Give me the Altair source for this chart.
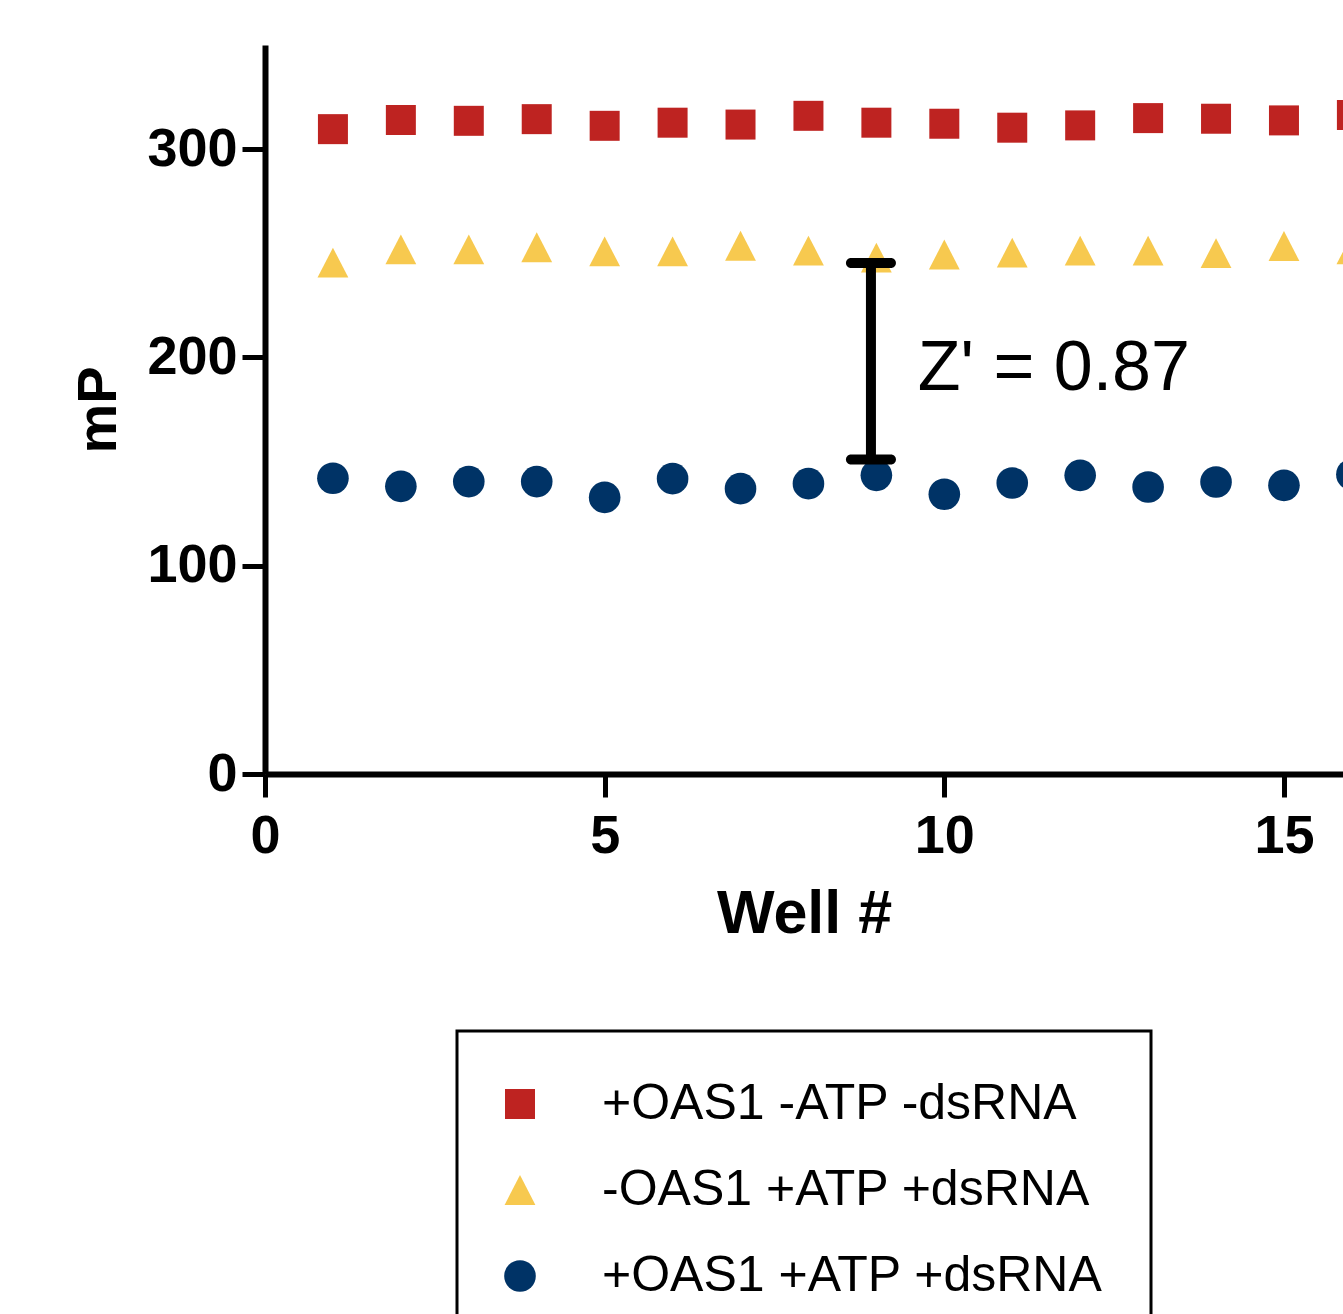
import altair as alt
import pandas as pd

wells = list(range(1, 17))
series_names = ["+OAS1 -ATP -dsRNA", "-OAS1 +ATP +dsRNA", "+OAS1 +ATP +dsRNA"]
red_vals = [309.6, 314.0, 313.6, 314.4, 311.2, 312.7, 311.8, 316.0, 312.7, 312.2, 310.3, 311.4, 314.9, 314.6, 313.8, 316.4]
yellow_vals = [245.5, 251.9, 251.9, 252.9, 250.9, 250.9, 253.6, 251.3, 247.9, 249.4, 250.3, 251.3, 251.3, 250.1, 253.5, 251.9]
navy_vals = [142.0, 138.1, 140.4, 140.4, 132.8, 141.8, 137.0, 139.4, 143.4, 134.3, 139.7, 143.4, 137.8, 140.2, 138.6, 143.8]
colors = ["#BE2321", "#F7C94F", "#003366"]
triangle = "M0,-0.97L1,0.97L-1,0.97Z"
shapes = ["square", triangle, "circle"]

# Z' window annotation
zbar_x = [8.92]
zbar_low = [151.0]
zbar_high = [245.3]
zlabel = ["Z' = 0.87"]
zlabel_x = [9.61]
zlabel_y = [184.6]

rows = []
for name, vals in zip(series_names, [red_vals, yellow_vals, navy_vals]):
    for w, v in zip(wells, vals):
        rows.append({"well": w, "mP": v, "group": name})
df = pd.DataFrame(rows)

zdf = pd.DataFrame({"x": zbar_x, "lo": zbar_low, "hi": zbar_high})
tdf = pd.DataFrame({"x": zlabel_x, "y": zlabel_y, "t": zlabel})

FONT = "Liberation Sans"

xs = alt.Scale(domain=[0, 15.869], nice=False, zero=False)
ys = alt.Scale(domain=[0, 350], nice=False)

points = alt.Chart(df).mark_point(filled=True, opacity=1, size=900, strokeWidth=0).encode(
    x=alt.X("well:Q", scale=xs, axis=alt.Axis(
        values=[0, 5, 10, 15], format="d", title="Well #", grid=False,
        domainWidth=6, domainColor="black", tickWidth=5, tickColor="black", tickSize=23,
        labelFont=FONT, labelFontSize=54, labelFontWeight="bold", labelColor="black",
        labelPadding=12, labelFlush=False,
        titleFont=FONT, titleFontSize=61, titleFontWeight="bold", titleColor="black",
        titlePadding=21)),
    y=alt.Y("mP:Q", scale=ys, axis=alt.Axis(
        values=[0, 100, 200, 300], format="d", title="mP", grid=False,
        domainWidth=6, domainColor="black", tickWidth=5, tickColor="black", tickSize=23,
        labelFont=FONT, labelFontSize=54, labelFontWeight="bold", labelColor="black",
        labelPadding=5, labelFlush=False,
        titleFont=FONT, titleFontSize=56, titleFontWeight="bold", titleColor="black",
        titlePadding=19)),
    color=alt.Color("group:N", scale=alt.Scale(domain=series_names, range=colors),
                    legend=alt.Legend(title=None, orient="none", legendX=192, legendY=986,
                                      labelFont=FONT, labelFontSize=50, labelColor="black",
                                      symbolSize=930, symbolStrokeWidth=0, labelOffset=57,
                                      symbolOffset=-10,
                                      rowPadding=36, padding=48, strokeColor="black",
                                      labelLimit=1000,
                                      fillColor="white")),
    shape=alt.Shape("group:N", scale=alt.Scale(domain=series_names, range=shapes)),
    size=alt.Size("group:N", scale=alt.Scale(domain=series_names, range=[900, 1000, 720]), legend=None),
)

vbar = alt.Chart(zdf).mark_rule(color="black", strokeWidth=10).encode(
    x=alt.X("x:Q", scale=xs), y=alt.Y("lo:Q", scale=ys), y2="hi:Q")
cap_lo = alt.Chart(zdf).mark_tick(color="black", orient="horizontal", size=50, thickness=10,
                                  cornerRadius=5, opacity=1).encode(
    x=alt.X("x:Q", scale=xs), y=alt.Y("lo:Q", scale=ys))
cap_hi = alt.Chart(zdf).mark_tick(color="black", orient="horizontal", size=50, thickness=10,
                                  cornerRadius=5, opacity=1).encode(
    x=alt.X("x:Q", scale=xs), y=alt.Y("hi:Q", scale=ys))
label = alt.Chart(tdf).mark_text(font=FONT, fontSize=70, align="left", baseline="alphabetic",
                                 color="black").encode(
    x=alt.X("x:Q", scale=xs), y=alt.Y("y:Q", scale=ys), text="t:N")

chart = alt.layer(points, vbar, cap_lo, cap_hi, label).properties(
    width=1078, height=729,
    autosize=alt.AutoSizeParams(type="none"),
    padding={"left": 265, "top": 45, "right": 0, "bottom": 540},
).configure_view(stroke=None).configure_legend(strokeWidth=3, cornerRadius=0)

chart.save("out.html", embed_options={"renderer": "svg", "actions": False})
